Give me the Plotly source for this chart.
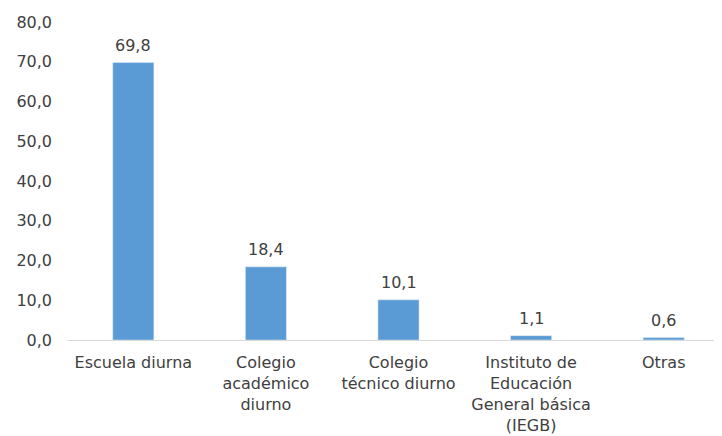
import plotly.graph_objects as go

categories = ["Escuela diurna", "Colegio<br>académico<br>diurno", "Colegio<br>técnico diurno",
              "Instituto de<br>Educación<br>General básica<br>(IEGB)", "Otras"]
values = [69.8, 18.4, 10.1, 1.1, 0.6]
y_ticks = [0, 10, 20, 30, 40, 50, 60, 70, 80]

FONT = "DejaVu Sans, Arial"
TXT = "#404040"

fig = go.Figure()
fig.add_trace(go.Bar(x=categories, y=values, marker_color="#5B9BD5", width=0.31))

for c, v in zip(categories, values):
    fig.add_annotation(x=c, y=v, text=f"{v:.1f}".replace(".", ","), showarrow=False,
                       yanchor="bottom", yshift=6,
                       font=dict(family=FONT, size=16, color=TXT))

fig.update_layout(
    width=722, height=436,
    margin=dict(l=59, r=0, t=14, b=104),
    plot_bgcolor="white", paper_bgcolor="white",
    separators=",.",
    showlegend=False,
    font=dict(family=FONT, size=16, color=TXT),
)
fig.update_xaxes(range=[-0.5, 4.5], showline=True, linecolor="#d9d9d9", linewidth=1,
                 ticks="", ticklabelstandoff=8, tickfont=dict(family=FONT, size=16, color=TXT))
fig.update_yaxes(range=[0, 80], tickvals=y_ticks, tickformat=".1f", showgrid=False,
                 zeroline=False, showline=False, ticks="", ticklabelstandoff=14,
                 tickfont=dict(family=FONT, size=16, color=TXT))

fig.write_html("out.html")
